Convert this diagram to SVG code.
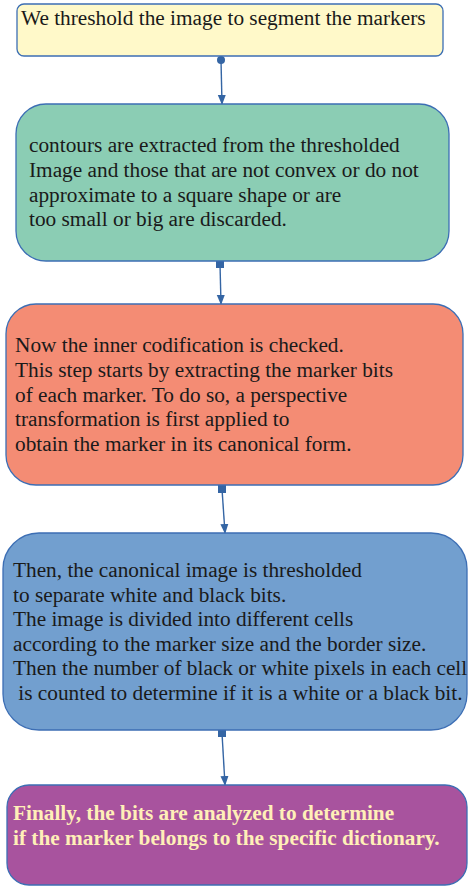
<svg xmlns="http://www.w3.org/2000/svg" width="469" height="887" viewBox="0 0 469 887">
<style>
.box{stroke:#3c6eb4;stroke-width:1.3}
.t{font-family:"Liberation Serif","Times New Roman",serif;font-size:21.3px;fill:#1a1a1a}
.b{font-weight:bold;fill:#ffefb8}
.c{stroke:#3465a4;stroke-width:1.4;fill:none}
.m{fill:#3465a4}
</style>
<defs>
<marker id="arr" markerWidth="10" markerHeight="10" refX="9" refY="5" orient="auto" markerUnits="userSpaceOnUse" viewBox="0 0 10 10">
<path d="M0,1 L10,5 L0,9 Z" fill="#3465a4"/>
</marker>
</defs>
<rect width="469" height="887" fill="#ffffff"/>
<g id="connectors">
<line class="c" x1="221" y1="60" x2="222" y2="104" marker-end="url(#arr)"/>
<circle class="m" cx="221" cy="60" r="4"/>
<line class="c" x1="220" y1="264" x2="221" y2="304" marker-end="url(#arr)"/>
<rect class="m" x="216" y="260" width="8" height="8"/>
<line class="c" x1="222" y1="489" x2="225" y2="533" marker-end="url(#arr)"/>
<rect class="m" x="218" y="485" width="8" height="8"/>
<line class="c" x1="222" y1="733" x2="225" y2="785" marker-end="url(#arr)"/>
<rect class="m" x="218" y="729" width="8" height="8"/>
</g>
<g id="node1">
<rect class="box" x="17" y="4" width="426" height="52" rx="7" fill="#fff9c9"/>
<text class="t" x="21" y="25">We threshold the image to segment the markers</text>
</g>
<g id="node2">
<rect class="box" x="16" y="104" width="433" height="157" rx="30" fill="#8bcdb4"/>
<text class="t"><tspan x="29" y="152">contours are extracted from the thresholded</tspan><tspan x="29" y="177">Image and those that are not convex or do not</tspan><tspan x="29" y="202">approximate to a square shape or are</tspan><tspan x="29" y="226">too small or big are discarded.</tspan></text>
</g>
<g id="node3">
<rect class="box" x="6" y="304" width="457" height="181" rx="30" fill="#f48c74"/>
<text class="t"><tspan x="15" y="352">Now the inner codification is checked.</tspan><tspan x="15" y="377">This step starts by extracting the marker bits</tspan><tspan x="15" y="402">of each marker. To do so, a perspective</tspan><tspan x="15" y="426">transformation is first applied to</tspan><tspan x="15" y="451">obtain the marker in its canonical form.</tspan></text>
</g>
<g id="node4">
<rect class="box" x="3" y="533" width="464" height="197" rx="36" fill="#729fcf"/>
<text class="t" xml:space="preserve"><tspan x="13" y="577">Then, the canonical image is thresholded</tspan><tspan x="13" y="602">to separate white and black bits.</tspan><tspan x="13" y="626">The image is divided into different cells</tspan><tspan x="13" y="651">according to the marker size and the border size.</tspan><tspan x="13" y="675">Then the number of black or white pixels in each cell</tspan><tspan x="13" y="700"> is counted to determine if it is a white or a black bit.</tspan></text>
</g>
<g id="node5">
<rect class="box" x="7" y="785" width="460" height="100" rx="22" fill="#a8539e"/>
<text class="t b"><tspan x="13" y="820">Finally, the bits are analyzed to determine</tspan><tspan x="13" y="845">if the marker belongs to the specific dictionary.</tspan></text>
</g>
</svg>
